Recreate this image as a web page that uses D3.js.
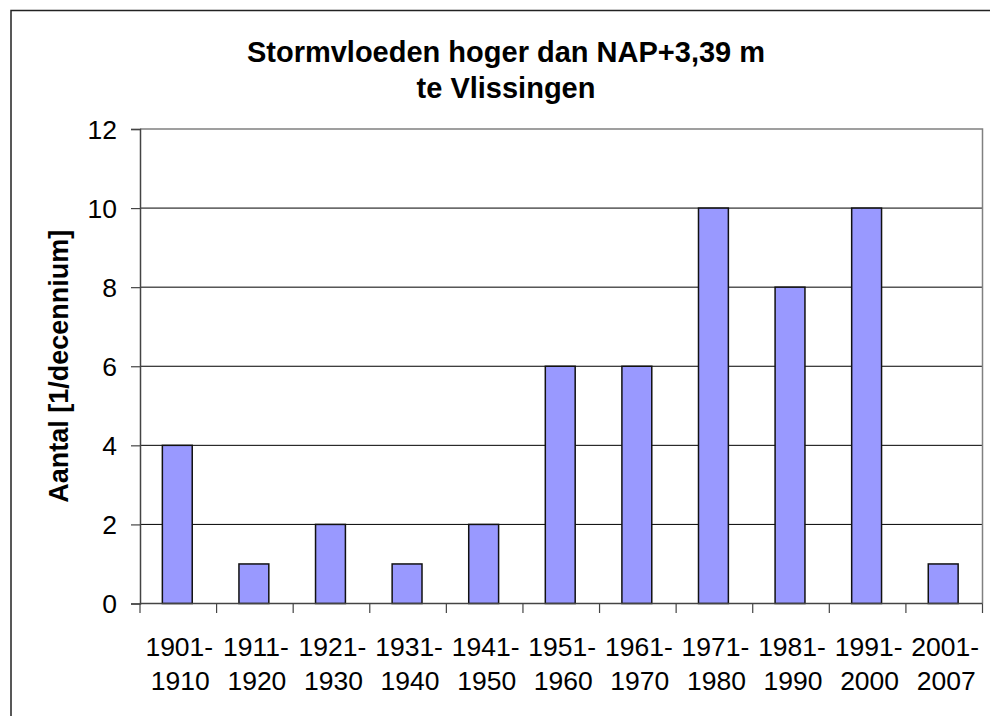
<!DOCTYPE html>
<html>
<head>
<meta charset="utf-8">
<script src="https://cdn.jsdelivr.net/npm/d3@7"></script>
<style>
  body { margin: 0; background: #fff; }
  svg { display: block; font-family: Arial, "Liberation Sans", sans-serif; }
</style>
</head>
<body>
<svg id="chart" width="990" height="716"></svg>
<script>
// data
const periodStart = ["1901-", "1911-", "1921-", "1931-", "1941-", "1951-", "1961-", "1971-", "1981-", "1991-", "2001-"];
const periodEnd = ["1910", "1920", "1930", "1940", "1950", "1960", "1970", "1980", "1990", "2000", "2007"];
const counts = [4, 1, 2, 1, 2, 6, 6, 10, 8, 10, 1];
const yTicks = [0, 2, 4, 6, 8, 10, 12];

const titleLines = ["Stormvloeden hoger dan NAP+3,39 m", "te Vlissingen"];
const yTitle = "Aantal [1/decennium]";

const svg = d3.select("#chart");
const W = 990, H = 716;
const m = { top: 129, right: 7.5, bottom: 112.5, left: 140 };

// outer frame (runs off the right and bottom edge)
svg.append("rect")
  .attr("x", 11).attr("y", 10.5)
  .attr("width", W).attr("height", H)
  .attr("fill", "none").attr("stroke", "#222").attr("stroke-width", 1.5);

const cats = periodStart.map((d, i) => i);
const x = d3.scaleBand().domain(cats).range([m.left, W - m.right]);
const y = d3.scaleLinear().domain([0, 12]).range([H - m.bottom, m.top]);

// gridlines
svg.append("g").selectAll("line")
  .data(yTicks.filter(t => t > 0 && t < 12))
  .join("line")
  .attr("x1", m.left).attr("x2", W - m.right)
  .attr("y1", d => y(d)).attr("y2", d => y(d))
  .attr("stroke", "#000").attr("stroke-width", 1);

// plot frame top + right (gray)
svg.append("path")
  .attr("d", `M${m.left},${y(12)}H${W - m.right}V${y(0)}`)
  .attr("fill", "none").attr("stroke", "#808080").attr("stroke-width", 1.5);

// bars
const barW = x.bandwidth() * 0.39;
svg.append("g").selectAll("rect")
  .data(counts)
  .join("rect")
  .attr("x", (d, i) => x(i) + x.bandwidth() / 2 - barW / 2 - 1)
  .attr("y", d => y(d))
  .attr("width", barW)
  .attr("height", d => y(0) - y(d))
  .attr("fill", "#9999ff")
  .attr("stroke", "#111").attr("stroke-width", 1.5);

// y axis
const yAxis = svg.append("g")
  .attr("transform", `translate(${m.left},0)`)
  .call(d3.axisLeft(y).tickValues(yTicks).tickSize(9).tickPadding(14));
yAxis.select(".domain").attr("stroke", "#444").attr("stroke-width", 1.5);
yAxis.selectAll(".tick line").attr("stroke", "#444").attr("stroke-width", 1.2);
yAxis.selectAll("text").attr("font-size", 26.5).attr("fill", "#000")
  .attr("font-family", "Arial, 'Liberation Sans', sans-serif").attr("dy", "0.35em");

// x axis: ticks at band edges
const edges = cats.map(i => x(i)).concat([W - m.right]);
svg.append("line")
  .attr("x1", m.left).attr("x2", W - m.right)
  .attr("y1", y(0)).attr("y2", y(0))
  .attr("stroke", "#444").attr("stroke-width", 1.5);
svg.append("g").selectAll("line")
  .data(edges)
  .join("line")
  .attr("x1", d => d).attr("x2", d => d)
  .attr("y1", y(0)).attr("y2", y(0) + 9.5)
  .attr("stroke", "#444").attr("stroke-width", 1.2);

const xl = svg.append("g").selectAll("text")
  .data(cats)
  .join("text")
  .attr("text-anchor", "middle")
  .attr("font-size", 26.5)
  .attr("fill", "#000");
xl.append("tspan")
  .attr("x", i => x(i) + x.bandwidth() / 2 + 1)
  .attr("y", 656)
  .text(i => periodStart[i]);
xl.append("tspan")
  .attr("x", i => x(i) + x.bandwidth() / 2 + 2)
  .attr("y", 690)
  .text(i => periodEnd[i]);

// title
svg.append("g").selectAll("text")
  .data(titleLines)
  .join("text")
  .attr("x", 506)
  .attr("y", (d, i) => 61.5 + i * 36.5)
  .attr("text-anchor", "middle")
  .attr("font-size", 29)
  .attr("font-weight", "bold")
  .text(d => d);

// y title
svg.append("text")
  .attr("transform", `translate(68,${(y(0) + y(12)) / 2}) rotate(-90)`)
  .attr("text-anchor", "middle")
  .attr("font-size", 27)
  .attr("font-weight", "bold")
  .text(yTitle);
</script>
</body>
</html>
